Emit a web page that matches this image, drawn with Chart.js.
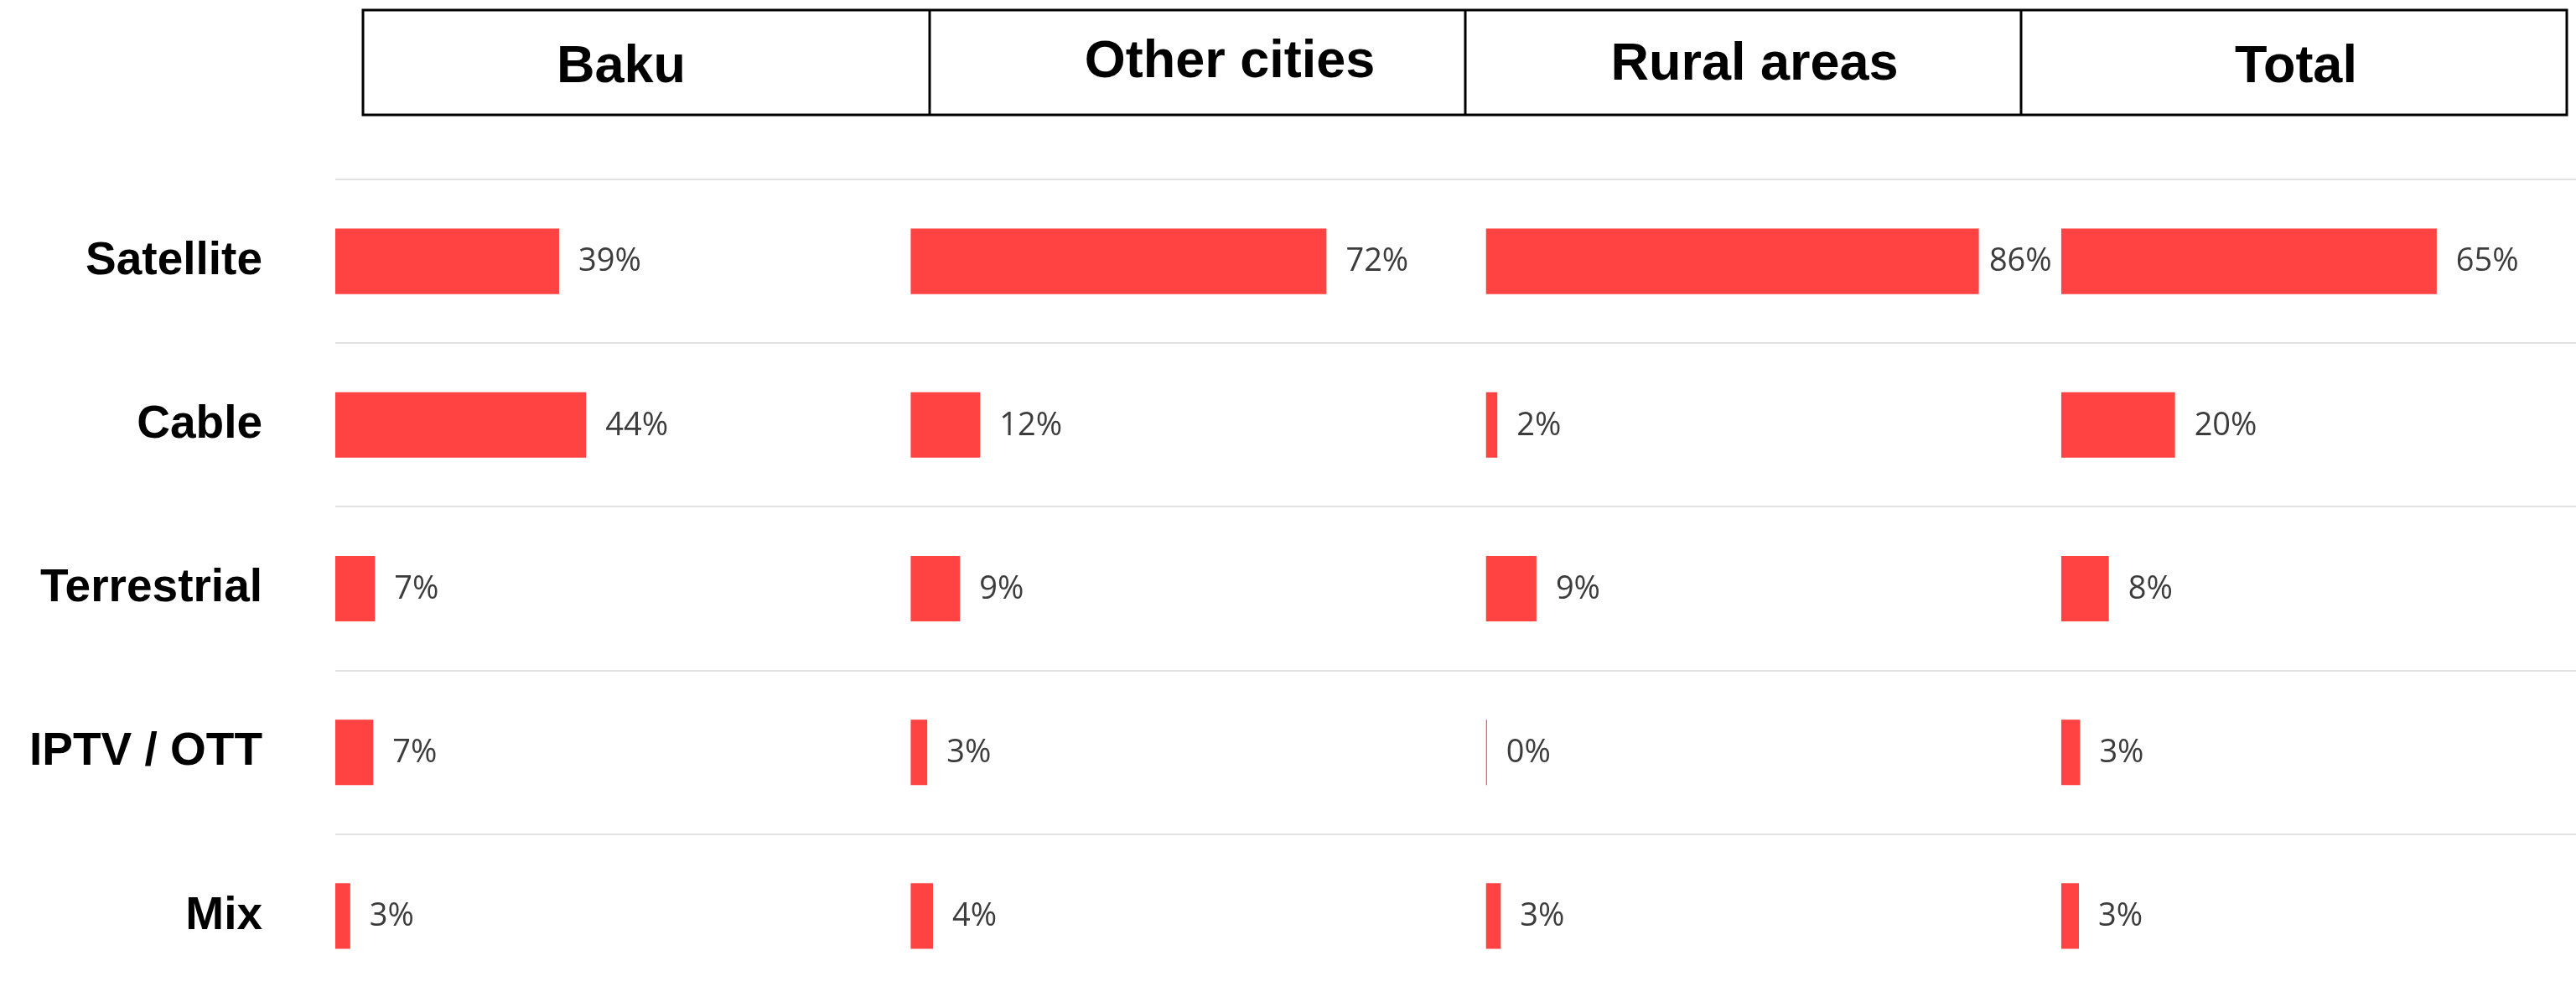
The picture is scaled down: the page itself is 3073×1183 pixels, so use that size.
<!DOCTYPE html>
<html>
<head>
<meta charset="utf-8">
<script src="https://cdn.jsdelivr.net/npm/chart.js@4/dist/chart.umd.min.js"></script>
<style>
  html, body { margin: 0; padding: 0; background: #fff; overflow: hidden; width: 3073px; height: 1183px; }
  canvas { display: block; }
</style>
</head>
<body>
<canvas id="c" width="3150" height="1190"></canvas>
<script>
// ---- data ----
const categories = ['Satellite', 'Cable', 'Terrestrial', 'IPTV / OTT', 'Mix'];
const panels = ['Baku', 'Other cities', 'Rural areas', 'Total'];
const baku = [38.9, 43.6, 6.9, 6.6, 2.6];
const otherCities = [72.3, 12.1, 8.6, 2.9, 3.9];
const ruralAreas = [85.7, 2.0, 8.8, 0.2, 2.6];
const total = [65.3, 19.8, 8.3, 3.3, 3.1];
const seriesValues = [baku, otherCities, ruralAreas, total];

// ---- layout / style (not data) ----
const BAR_COLOR = '#FF4242';
const headerBox = { left: 433, top: 12, right: 3062, bottom: 137, dividers: [1109, 1748, 2411] };
const headerText = [ { x: 741, y: 98 }, { x: 1467, y: 92 }, { x: 2093, y: 95 }, { x: 2739, y: 98 } ];

const headerPlugin = {
  id: 'headerPlugin',
  afterDraw(chart) {
    const ctx = chart.ctx;
    ctx.save();
    ctx.strokeStyle = '#000';
    ctx.lineWidth = 3;
    ctx.strokeRect(headerBox.left, headerBox.top, headerBox.right - headerBox.left, headerBox.bottom - headerBox.top);
    headerBox.dividers.forEach(x => {
      ctx.beginPath();
      ctx.moveTo(x, headerBox.top);
      ctx.lineTo(x, headerBox.bottom);
      ctx.stroke();
    });
    ctx.fillStyle = '#000';
    ctx.font = 'bold 63px "Liberation Sans", Arial, sans-serif';
    ctx.textAlign = 'center';
    ctx.textBaseline = 'alphabetic';
    panels.forEach((p, i) => ctx.fillText(p, headerText[i].x, headerText[i].y));
    ctx.restore();
  }
};

const valueLabelPlugin = {
  id: 'valueLabelPlugin',
  afterDatasetsDraw(chart) {
    const ctx = chart.ctx;
    ctx.save();
    ctx.font = '38px "Open Sans", "Noto Sans", sans-serif';
    ctx.fillStyle = '#3c3c3c';
    ctx.textAlign = 'left';
    ctx.textBaseline = 'middle';
    chart.data.datasets.forEach((ds, i) => {
      const meta = chart.getDatasetMeta(i);
      const panelEnd = chart.scales['x' + i].right;
      meta.data.forEach((el, j) => {
        const text = Math.round(ds.data[j]) + '%';
        const w = ctx.measureText(text).width;
        let x = el.x + 23;
        if (x + w > panelEnd - 11) x = panelEnd - 11 - w;
        ctx.fillText(text, x, el.y + 1);
      });
    });
    ctx.restore();
  }
};

const scales = {
  y: {
    type: 'category',
    position: 'left',
    offset: true,
    grid: { display: true, offset: true, color: '#e2e2e2', lineWidth: 2, drawTicks: false },
    border: { display: false },
    ticks: {
      color: '#000',
      padding: 87,
      font: { family: '"Liberation Sans", Arial, sans-serif', size: 55, weight: 'bold' }
    },
    afterFit(scale) {
      scale.width = 400;
      scale.paddingTop = 0;
      scale.paddingBottom = 0;
    }
  }
};
panels.forEach((p, i) => {
  scales['x' + i] = {
    type: 'linear',
    axis: 'x',
    position: 'bottom',
    stack: 'panels',
    stackWeight: 1,
    min: 0,
    max: 100,
    display: false,
    grid: { display: false }
  };
});

new Chart(document.getElementById('c'), {
  type: 'bar',
  data: {
    labels: categories,
    datasets: seriesValues.map((vals, i) => ({
      label: panels[i],
      data: vals,
      xAxisID: 'x' + i,
      yAxisID: 'y',
      backgroundColor: BAR_COLOR,
      borderWidth: 0,
      grouped: false,
      categoryPercentage: 0.4,
      barPercentage: 1.0
    }))
  },
  options: {
    indexAxis: 'y',
    responsive: false,
    animation: false,
    devicePixelRatio: 1,
    layout: { padding: { left: 0, top: 214, right: 5, bottom: 0 } },
    plugins: { legend: { display: false }, tooltip: { enabled: false } },
    scales
  },
  plugins: [headerPlugin, valueLabelPlugin]
});
</script>
</body>
</html>
